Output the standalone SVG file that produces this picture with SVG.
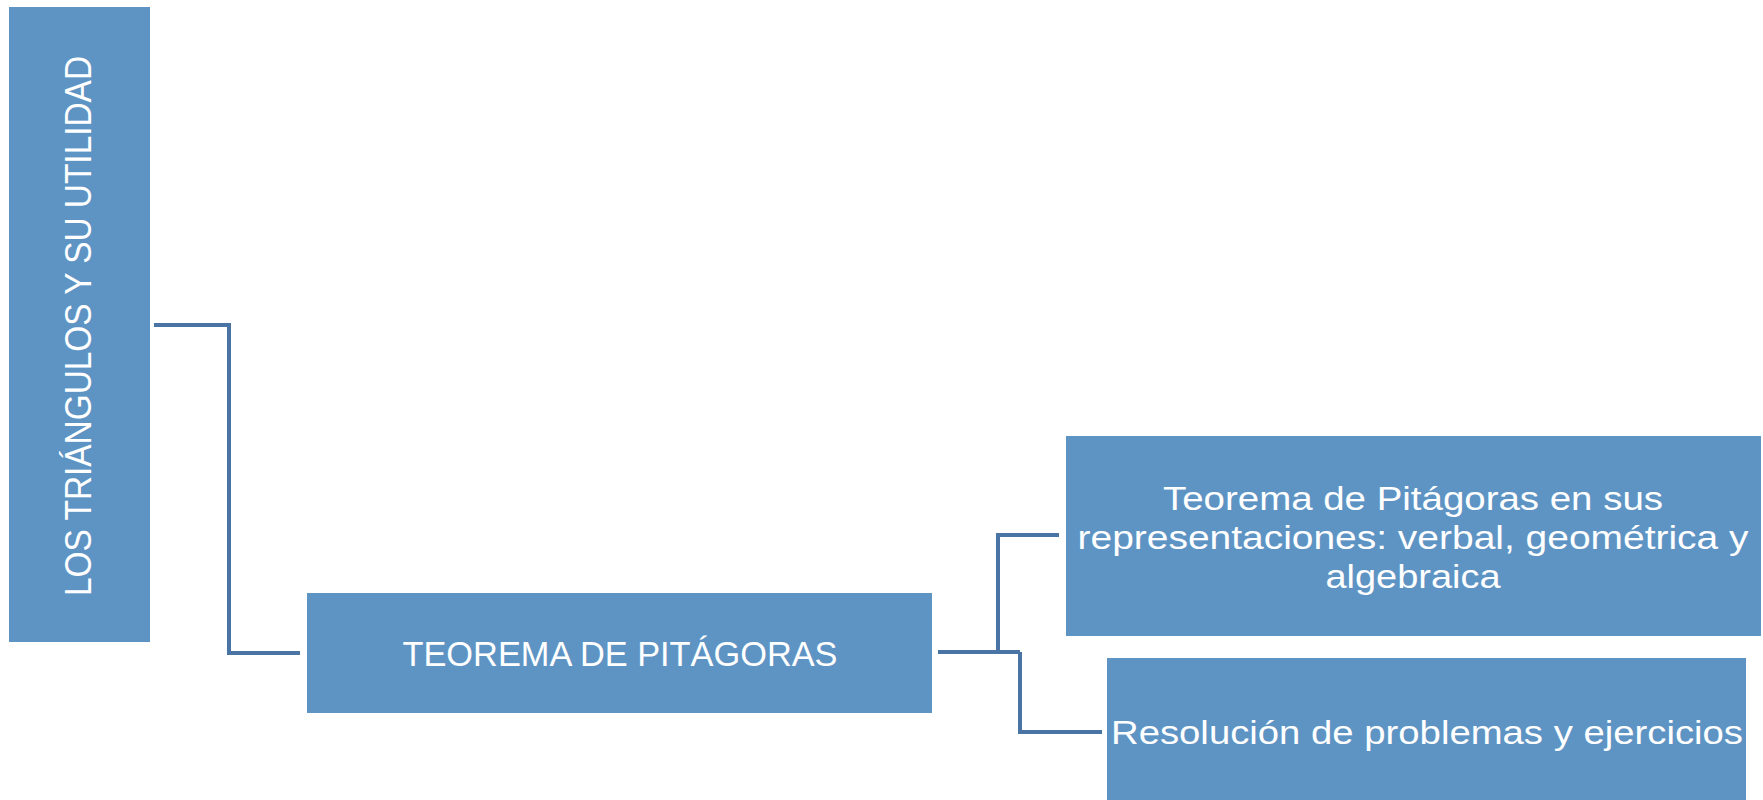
<svg xmlns="http://www.w3.org/2000/svg" width="1763" height="800" viewBox="0 0 1763 800">
<style>
.box{fill:#5E94C4;}
.t{fill:#ffffff;font-family:"Liberation Sans",Arial,sans-serif;text-anchor:middle;}
.c{fill:none;stroke:#4A74A4;stroke-width:4;stroke-linejoin:miter;}
</style>
<rect width="1763" height="800" fill="#ffffff"/>
<g id="connectors">
<polyline class="c" points="154,325 229,325 229,653 300,653"/>
<polyline class="c" points="938,652 1020,652"/>
<polyline class="c" points="998,652 998,535 1059,535"/>
<polyline class="c" points="1020,652 1020,732 1102,732"/>
</g>
<g id="node-root">
<rect class="box" x="9" y="7" width="141" height="635"/>
<text class="t" transform="translate(91,326) rotate(-90)" font-size="36" textLength="540" lengthAdjust="spacingAndGlyphs">LOS TRIÁNGULOS Y SU UTILIDAD</text>
</g>
<g id="node-teorema">
<rect class="box" x="307" y="593" width="625" height="120"/>
<text class="t" x="620" y="666" font-size="35" textLength="435" lengthAdjust="spacingAndGlyphs">TEOREMA DE PITÁGORAS</text>
</g>
<g id="node-representaciones">
<rect class="box" x="1066" y="436" width="695" height="200"/>
<text class="t" x="1413" y="510" font-size="33" textLength="500" lengthAdjust="spacingAndGlyphs">Teorema de Pitágoras en sus</text>
<text class="t" x="1413" y="549" font-size="33" textLength="671" lengthAdjust="spacingAndGlyphs">representaciones: verbal, geométrica y</text>
<text class="t" x="1413" y="588" font-size="33" textLength="175" lengthAdjust="spacingAndGlyphs">algebraica</text>
</g>
<g id="node-resolucion">
<rect class="box" x="1107" y="658" width="639" height="142"/>
<text class="t" x="1427" y="744" font-size="33" textLength="632" lengthAdjust="spacingAndGlyphs">Resolución de problemas y ejercicios</text>
</g>
</svg>
